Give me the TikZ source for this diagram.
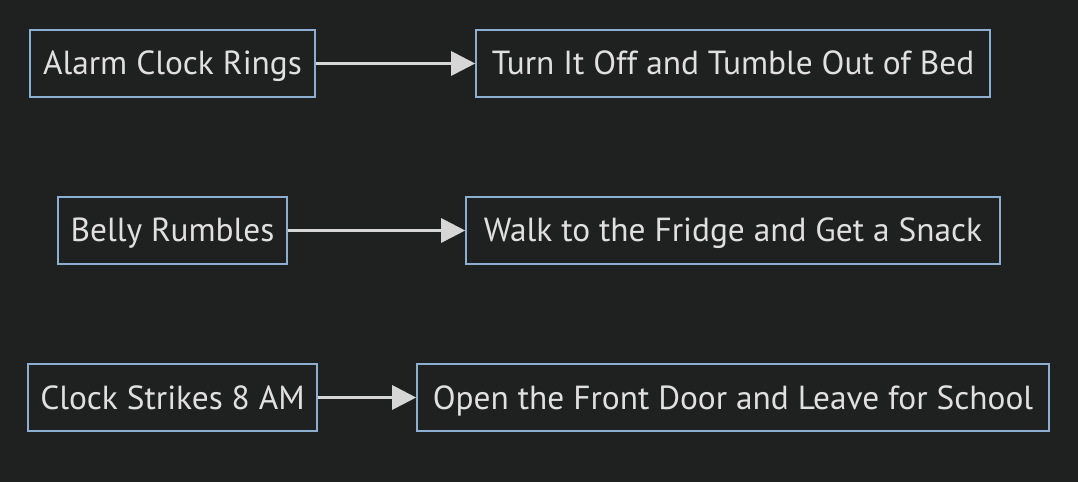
\documentclass[tikz,border=0pt]{standalone}
\usepackage{fontspec}
\setmainfont{PT Sans}
\usetikzlibrary{arrows.meta}
\definecolor{bg}{HTML}{1F2020}
\definecolor{boxfill}{HTML}{1F2020}
\definecolor{boxborder}{HTML}{8CAED0}
\definecolor{txt}{HTML}{E0E0E0}
\definecolor{arr}{HTML}{D6D6D6}
\begin{document}
\begin{tikzpicture}[x=1bp,y=-1bp,
  box/.style={draw=boxborder,fill=boxfill,line width=1.6bp,text=txt,inner sep=0pt,
    minimum height=67bp,text height=30bp,text depth=7bp,font=\fontsize{33.5}{36}\selectfont},
  flow/.style={draw=arr,line width=3bp,-{Triangle[length=24bp,width=24bp]}}]
\fill[bg] (0,0) rectangle (1078,482);
\useasboundingbox (0,0) rectangle (1078,482);
\node[box,minimum width=285bp] (a) at (172.5,63.5) {Alarm Clock Rings};
\node[box,minimum width=514bp] (b) at (733,63.5) {Turn It Off and Tumble Out of Bed};
\node[box,minimum width=229bp] (c) at (172.5,230.5) {Belly Rumbles};
\node[box,minimum width=534bp] (d) at (733,230.5) {Walk to the Fridge and Get a Snack};
\node[box,minimum width=289bp] (e) at (172.5,397.5) {Clock Strikes 8 AM};
\node[box,minimum width=632bp] (f) at (733,397.5) {Open the Front Door and Leave for School};
\draw[flow] (a) -- (b);
\draw[flow] (c) -- (d);
\draw[flow] (e) -- (f);
\end{tikzpicture}
\end{document}
